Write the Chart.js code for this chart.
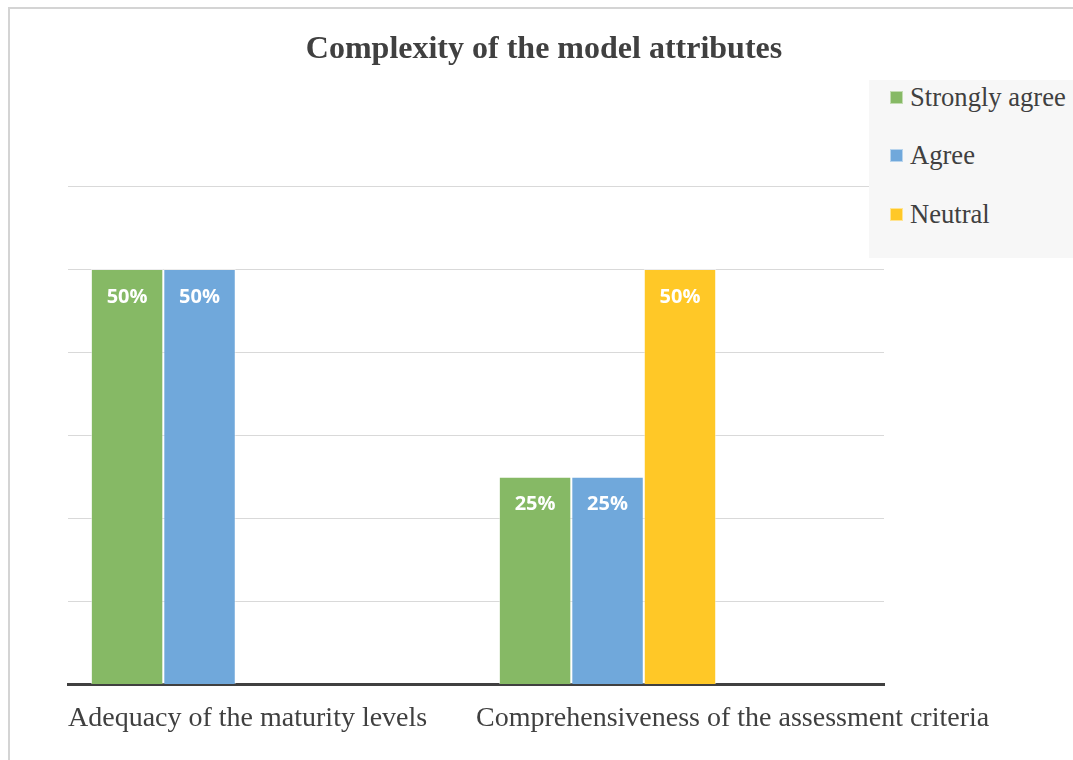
<!DOCTYPE html>
<html>
<head>
<meta charset="utf-8">
<script src="https://cdn.jsdelivr.net/npm/chart.js@4.4.1/dist/chart.umd.min.js"></script>
<style>
    html, body { margin: 0; padding: 0; background: #fff; overflow: hidden; }
    #frame { position: absolute; left: 8px; top: 7px; width: 1300px; height: 1000px; border: 2px solid #d4d4d4; }
    #myChart { position: absolute; left: 15px; top: 0; }
    #legend { position: absolute; left: 869px; top: 80px; width: 230px; height: 178px; background: #f7f7f7; }
    #legend ul { list-style: none; margin: 0; padding: 0; }
    #legend li { position: absolute; left: 21px; height: 28px; display: flex; align-items: center;
                 font: 26.6px "Liberation Serif", serif; color: #404040; white-space: nowrap; }
    #legend .box { width: 13px; height: 13px; margin-right: 7px; box-sizing: border-box; border: 1px solid rgba(255,255,255,0.5); }
</style>
</head>
<body>
<div id="frame"></div>
<canvas id="myChart" width="1058" height="760"></canvas>
<div id="legend"></div>
<script>
const categories = ['Adequacy of the maturity levels', 'Comprehensiveness of the assessment criteria'];
const seriesNames = ['Strongly agree', 'Agree', 'Neutral', 'Disagree', 'Strongly disagree'];
const stronglyAgree = [50, 25];
const agree = [50, 25];
const neutral = [0, 50];
const disagree = [0, 0];
const stronglyDisagree = [0, 0];
const seriesColors = ['#86b965', '#70a8db', '#ffc827', '#f4a36a', '#b7b7b7'];

const seriesValues = [stronglyAgree, agree, neutral, disagree, stronglyDisagree];

// legend as html, only series that actually have answers
const htmlLegend = {
    id: 'htmlLegend',
    afterUpdate(chart) {
        const box = document.getElementById('legend');
        box.innerHTML = '';
        const ul = document.createElement('ul');
        let row = 0;
        chart.data.datasets.forEach(ds => {
            if (!ds.data.some(v => v > 0)) return;
            const li = document.createElement('li');
            li.style.top = (3 + row * 58.5) + 'px';
            const sw = document.createElement('span');
            sw.className = 'box';
            sw.style.background = ds.backgroundColor;
            li.appendChild(sw);
            li.appendChild(document.createTextNode(ds.label));
            ul.appendChild(li);
            row++;
        });
        box.appendChild(ul);
    }
};

// white percentage labels inside the top of each bar
const barLabels = {
    id: 'barLabels',
    afterDatasetsDraw(chart) {
        const ctx = chart.ctx;
        ctx.save();
        ctx.fillStyle = '#ffffff';
        ctx.font = 'bold 20px "Open Sans", sans-serif';
        ctx.textAlign = 'center';
        ctx.textBaseline = 'middle';
        chart.data.datasets.forEach((ds, i) => {
            chart.getDatasetMeta(i).data.forEach((bar, j) => {
                const v = ds.data[j];
                if (!v) return;
                ctx.fillText(v + '%', bar.x, bar.y + 28);
            });
        });
        ctx.restore();
    }
};

const ctx = document.getElementById('myChart');
const myChart = new Chart(ctx, {
    type: 'bar',
    data: {
        labels: categories,
        datasets: seriesNames.map((name, i) => ({
            label: name,
            data: seriesValues[i],
            backgroundColor: seriesColors[i],
            borderColor: 'rgba(255,255,255,0.5)',
            borderWidth: c => (c.raw ? 1 : 0),
            categoryPercentage: 0.888,
            barPercentage: 1
        }))
    },
    options: {
        responsive: false,
        animation: false,
        layout: { padding: { left: 0, right: 0, top: 0, bottom: 8 } },
        plugins: {
            legend: { display: false },
            tooltip: { enabled: false },
            title: {
                display: true,
                text: 'Complexity of the model attributes',
                color: '#404040',
                font: { family: 'Liberation Serif', size: 32, weight: 'bold' },
                padding: { top: 31, bottom: 116.6 }
            }
        },
        scales: {
            x: {
                offset: true,
                grid: { display: false, drawTicks: false },
                ticks: { display: false },
                border: { display: true, color: '#404040', width: 3 }
            },
            x2: {
                type: 'category',
                labels: categories.concat(['']),
                offset: false,
                position: 'bottom',
                grid: { display: false, drawTicks: false },
                border: { display: false },
                ticks: {
                    align: 'start',
                    autoSkip: false,
                    maxRotation: 0,
                    padding: 17,
                    color: '#404040',
                    font: { family: 'Liberation Serif', size: 28 }
                }
            },
            y: {
                min: 0,
                max: 60,
                ticks: { display: false, stepSize: 10 },
                grid: { color: '#d9d9d9', drawTicks: false },
                border: { display: false },
                afterFit: s => { s.width = 53; }
            },
            y2: {
                position: 'right',
                display: true,
                grid: { display: false, drawTicks: false },
                ticks: { display: false },
                border: { display: false },
                afterFit: s => { s.width = 189; }
            }
        }
    },
    plugins: [htmlLegend, barLabels]
});
</script>
</body>
</html>
